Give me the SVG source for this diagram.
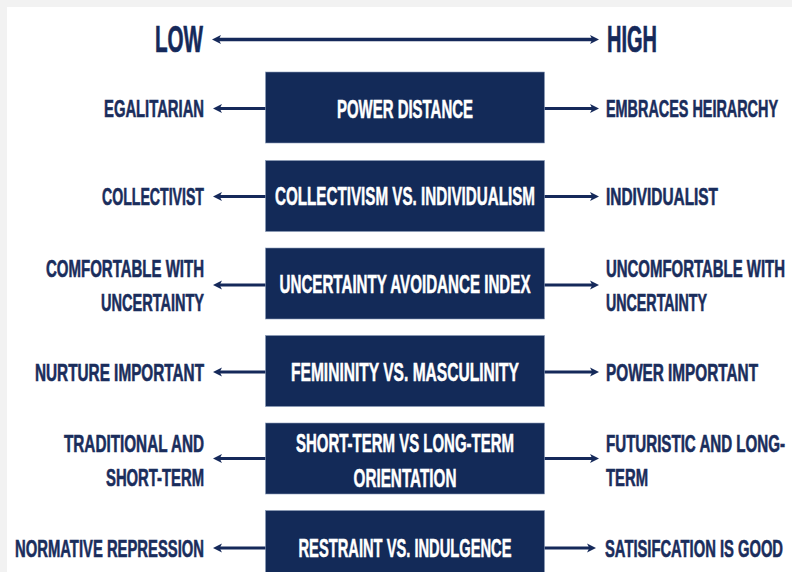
<svg xmlns="http://www.w3.org/2000/svg" width="792" height="572" viewBox="0 0 792 572">
<defs>
<style>
.bg{fill:#f2f2f2}
.page{fill:#ffffff}
.box{fill:#132a58;stroke:#8a9bb8;stroke-width:0.6}
.lbl{font-family:"Liberation Sans","Arial",sans-serif;font-weight:bold;font-size:14px;fill:#1a2d5c;stroke:#1a2d5c;stroke-width:0.35}
.ttl{font-family:"Liberation Sans","Arial",sans-serif;font-weight:bold;font-size:21px;fill:#15295a;stroke:#15295a;stroke-width:0.4}
.btx{font-family:"Liberation Sans","Arial",sans-serif;font-weight:bold;font-size:15px;fill:#ffffff;stroke:#ffffff;stroke-width:0.3;text-anchor:middle}
.end{text-anchor:end}
.con{stroke:#15295a;stroke-width:3;fill:none}
</style>
<marker id="ah" viewBox="0 0 10 10" refX="3.3" refY="5" markerWidth="9" markerHeight="10" markerUnits="userSpaceOnUse" orient="auto-start-reverse">
<path d="M0,0 L10,5 L0,10 L2.5,5 z" fill="#15295a"/>
</marker>
</defs>
<rect class="bg" x="0" y="0" width="792" height="572"/>
<rect class="page" x="7" y="7" width="785" height="565"/>

<g id="scale">
<g transform="translate(155,51.5) scale(1,1.776)"><text class="ttl" x="0" y="0" textLength="48" lengthAdjust="spacingAndGlyphs">LOW</text></g>
<g transform="translate(607,51.5) scale(1,1.776)"><text class="ttl" x="0" y="0" textLength="50" lengthAdjust="spacingAndGlyphs">HIGH</text></g>
</g>

<g id="connectors">
<path class="con" style="stroke-width:3.5" d="M218,39.5 L593,39.5" marker-start="url(#ah)" marker-end="url(#ah)"/>
<path class="con" d="M266,108.5 L219,108.5" marker-end="url(#ah)"/>
<path class="con" d="M544,108.5 L593,108.5" marker-end="url(#ah)"/>
<path class="con" d="M266,196.5 L219,196.5" marker-end="url(#ah)"/>
<path class="con" d="M544,196.5 L593,196.5" marker-end="url(#ah)"/>
<path class="con" d="M266,285 L219,285" marker-end="url(#ah)"/>
<path class="con" d="M544,285 L593,285" marker-end="url(#ah)"/>
<path class="con" d="M266,372 L219,372" marker-end="url(#ah)"/>
<path class="con" d="M544,372 L593,372" marker-end="url(#ah)"/>
<path class="con" d="M266,458.5 L219,458.5" marker-end="url(#ah)"/>
<path class="con" d="M544,458.5 L593,458.5" marker-end="url(#ah)"/>
<path class="con" d="M266,548 L219,548" marker-end="url(#ah)"/>
<path class="con" d="M544,548 L590,548" marker-end="url(#ah)"/>
</g>

<g id="power-distance">
<rect class="box" x="265.5" y="72" width="279" height="71"/>
<g transform="translate(405,118) scale(1,1.68)"><text class="btx" x="0" y="0" textLength="136" lengthAdjust="spacingAndGlyphs">POWER DISTANCE</text></g>
<g transform="translate(204,117.3) scale(1,1.73)"><text class="lbl end" x="0" y="0" textLength="100" lengthAdjust="spacingAndGlyphs">EGALITARIAN</text></g>
<g transform="translate(606,117.3) scale(1,1.73)"><text class="lbl" x="0" y="0" textLength="172" lengthAdjust="spacingAndGlyphs">EMBRACES HEIRARCHY</text></g>
</g>

<g id="collectivism">
<rect class="box" x="265.5" y="160.5" width="279" height="71"/>
<g transform="translate(405,205) scale(1,1.68)"><text class="btx" x="0" y="0" textLength="260" lengthAdjust="spacingAndGlyphs">COLLECTIVISM VS. INDIVIDUALISM</text></g>
<g transform="translate(204,205) scale(1,1.73)"><text class="lbl end" x="0" y="0" textLength="102" lengthAdjust="spacingAndGlyphs">COLLECTIVIST</text></g>
<g transform="translate(606,205) scale(1,1.73)"><text class="lbl" x="0" y="0" textLength="112" lengthAdjust="spacingAndGlyphs">INDIVIDUALIST</text></g>
</g>

<g id="uncertainty">
<rect class="box" x="265.5" y="248" width="279" height="71"/>
<g transform="translate(405,293) scale(1,1.68)"><text class="btx" x="0" y="0" textLength="251" lengthAdjust="spacingAndGlyphs">UNCERTAINTY AVOIDANCE INDEX</text></g>
<g transform="translate(204,277) scale(1,1.73)"><text class="lbl end" x="0" y="0" textLength="158" lengthAdjust="spacingAndGlyphs">COMFORTABLE WITH</text></g>
<g transform="translate(204,311) scale(1,1.73)"><text class="lbl end" x="0" y="0" textLength="103" lengthAdjust="spacingAndGlyphs">UNCERTAINTY</text></g>
<g transform="translate(606,277) scale(1,1.73)"><text class="lbl" x="0" y="0" textLength="179" lengthAdjust="spacingAndGlyphs">UNCOMFORTABLE WITH</text></g>
<g transform="translate(606,311) scale(1,1.73)"><text class="lbl" x="0" y="0" textLength="101" lengthAdjust="spacingAndGlyphs">UNCERTAINTY</text></g>
</g>

<g id="femininity">
<rect class="box" x="265.5" y="335.5" width="279" height="71"/>
<g transform="translate(405,381) scale(1,1.68)"><text class="btx" x="0" y="0" textLength="228" lengthAdjust="spacingAndGlyphs">FEMININITY VS. MASCULINITY</text></g>
<g transform="translate(204,380.5) scale(1,1.73)"><text class="lbl end" x="0" y="0" textLength="169" lengthAdjust="spacingAndGlyphs">NURTURE IMPORTANT</text></g>
<g transform="translate(606,380.5) scale(1,1.73)"><text class="lbl" x="0" y="0" textLength="152" lengthAdjust="spacingAndGlyphs">POWER IMPORTANT</text></g>
</g>

<g id="orientation">
<rect class="box" x="265.5" y="423" width="279" height="71"/>
<g transform="translate(405,452) scale(1,1.68)"><text class="btx" x="0" y="0" textLength="218" lengthAdjust="spacingAndGlyphs">SHORT-TERM VS LONG-TERM</text></g>
<g transform="translate(405,486.5) scale(1,1.68)"><text class="btx" x="0" y="0" textLength="103" lengthAdjust="spacingAndGlyphs">ORIENTATION</text></g>
<g transform="translate(204,451.5) scale(1,1.73)"><text class="lbl end" x="0" y="0" textLength="140" lengthAdjust="spacingAndGlyphs">TRADITIONAL AND</text></g>
<g transform="translate(204,486) scale(1,1.73)"><text class="lbl end" x="0" y="0" textLength="98" lengthAdjust="spacingAndGlyphs">SHORT-TERM</text></g>
<g transform="translate(606,451.5) scale(1,1.73)"><text class="lbl" x="0" y="0" textLength="179" lengthAdjust="spacingAndGlyphs">FUTURISTIC AND LONG-</text></g>
<g transform="translate(606,486) scale(1,1.73)"><text class="lbl" x="0" y="0" textLength="42" lengthAdjust="spacingAndGlyphs">TERM</text></g>
</g>

<g id="indulgence">
<rect class="box" x="265.5" y="510.5" width="279" height="71"/>
<g transform="translate(405,556.5) scale(1,1.68)"><text class="btx" x="0" y="0" textLength="213" lengthAdjust="spacingAndGlyphs">RESTRAINT VS. INDULGENCE</text></g>
<g transform="translate(204,556.5) scale(1,1.73)"><text class="lbl end" x="0" y="0" textLength="189" lengthAdjust="spacingAndGlyphs">NORMATIVE REPRESSION</text></g>
<g transform="translate(605,556.5) scale(1,1.73)"><text class="lbl" x="0" y="0" textLength="178" lengthAdjust="spacingAndGlyphs">SATISIFCATION IS GOOD</text></g>
</g>
</svg>
